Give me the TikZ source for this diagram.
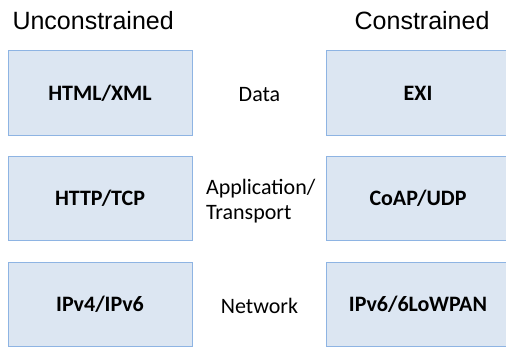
\documentclass[tikz,border=0pt]{standalone}
\usepackage{fontspec}
\setmainfont{Carlito}
\newfontfamily\headfont{Liberation Sans}
\usepackage{tikz}
\definecolor{boxfill}{HTML}{DCE6F2}
\definecolor{boxline}{HTML}{8EB4E3}
\tikzset{
  layer/.style={draw=boxline, fill=boxfill, line width=1pt, minimum width=184pt, minimum height=84.5pt, font=\bfseries\fontsize{22}{26}\selectfont},
  side/.style={font=\headfont\fontsize{25}{30}\selectfont, anchor=base west},
  level/.style={font=\fontsize{22}{25.7}\selectfont, align=center}
}

\begin{document}
\begin{tikzpicture}[x=1pt, y=-1pt]
    \clip (0,0) rectangle (506,346);

    \node[side] (uncon) at (9,29) {Unconstrained};
    \node[side, anchor=base east] (con) at (493,29) {Constrained};

    \node[layer] (html) at (100,93) {HTML/XML};
    \node[layer] (http) at (100,198.5) {HTTP/TCP};
    \node[layer] (ipv4) at (100,304.5) {IPv4/IPv6};

    \node[layer] (exi) at (418,93) {EXI};
    \node[layer] (coap) at (418,198.5) {CoAP/UDP};
    \node[layer] (ipv6) at (418,304.5) {IPv6/6LoWPAN};

    \node[level, anchor=base] (data) at (259.5,101.7) {Data};
    \node[level, align=left, anchor=west] (trans) at (202.5,201) {Application/\\Transport};
    \node[level, anchor=base] (net) at (259.5,313.3) {Network};

  \end{tikzpicture}
\end{document}
